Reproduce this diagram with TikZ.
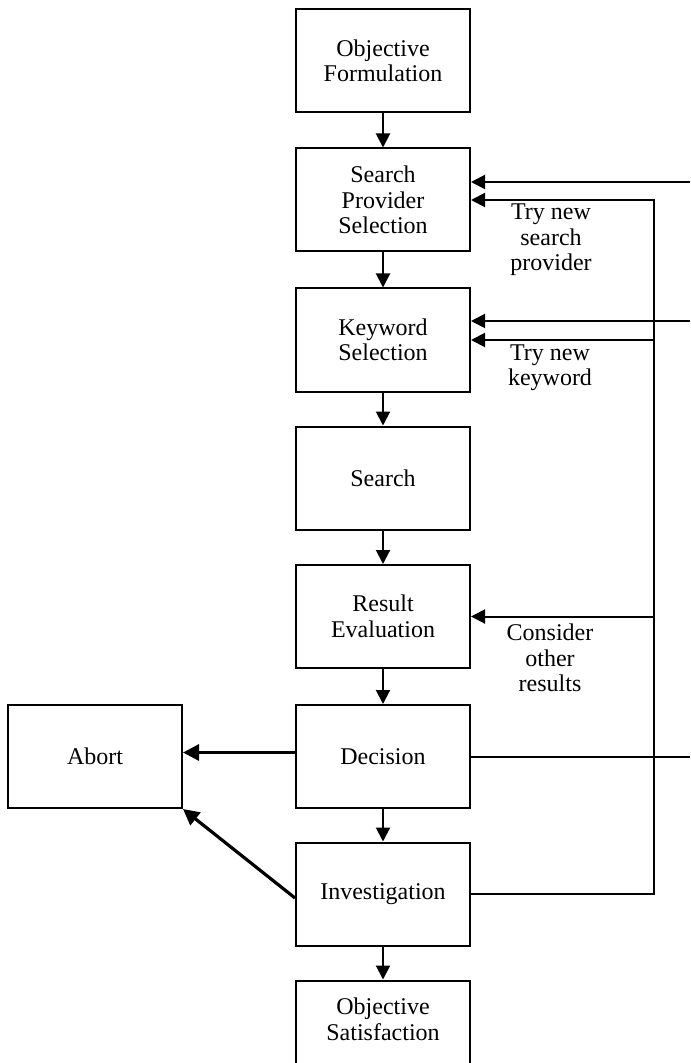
\documentclass[tikz,border=0pt]{standalone}
\usepackage{fontspec}
\setmainfont{Liberation Serif}
\usetikzlibrary{arrows.meta}
\tikzset{
  box/.style={draw,line width=1pt,minimum width=87pt,minimum height=51.5pt,
    align=center,inner sep=0pt,font=\fontsize{12}{12.75}\selectfont},
  lbl/.style={align=center,font=\fontsize{12}{12.75}\selectfont},
  arr/.style={line width=1pt,-{Triangle[length=7pt,width=7pt]}},
  thickarr/.style={line width=1.6pt,-{Triangle[length=8pt,width=8pt]}}
}
\begin{document}
\begin{tikzpicture}[x=0.5pt,y=-0.5pt]
\useasboundingbox (0,0) rectangle (690,1063);
\node[box] (form) at (383,61) {Objective\\Formulation};
\node[box] (prov) at (383,200) {Search\\Provider\\Selection};
\node[box] (key) at (383,340) {Keyword\\Selection};
\node[box] (search) at (383,478) {Search};
\node[box] (eval) at (383,616.5) {Result\\Evaluation};
\node[box] (dec) at (383,756.5) {Decision};
\node[box] (inv) at (383,894) {Investigation};
\node[box] (sat) at (383,1032) {Objective\\Satisfaction\\~};
\node[box] (abort) at (95,756.5) {Abort};

\node[lbl] (tryprov) at (551,240) {Try new\\search\\provider};
\node[lbl] (trykey) at (550,367.5) {Try new\\keyword};
\node[lbl] (other) at (550,658) {Consider\\other\\results};

\coordinate (bus) at (654,0);
\coordinate (edge) at (690,0);

\draw[arr] (form) -- (prov);
\draw[arr] (prov) -- (key);
\draw[arr] (key) -- (search);
\draw[arr] (search) -- (eval);
\draw[arr] (eval) -- (dec);
\draw[arr] (dec) -- (inv);
\draw[arr] (inv) -- (sat);

\draw[thickarr] ([yshift=2pt]dec.west) -- ([yshift=2pt]abort.east);
\draw[thickarr] ([yshift=-2pt]inv.west) -- (abort.south east);

\draw[arr] (inv.east) -- (inv.east -| bus) -- (prov.east -| bus) -- (prov.east);
\draw[arr] (key.east -| bus) -- (key.east);
\draw[arr] (eval.east -| bus) -- (eval.east);

\draw[arr] ([yshift=9pt]prov.east -| edge) -- ([yshift=9pt]prov.east);
\draw[arr] ([yshift=9.5pt]key.east -| edge) -- ([yshift=9.5pt]key.east);
\draw[line width=1pt] (dec.east) -- (dec.east -| edge);
\end{tikzpicture}
\end{document}
